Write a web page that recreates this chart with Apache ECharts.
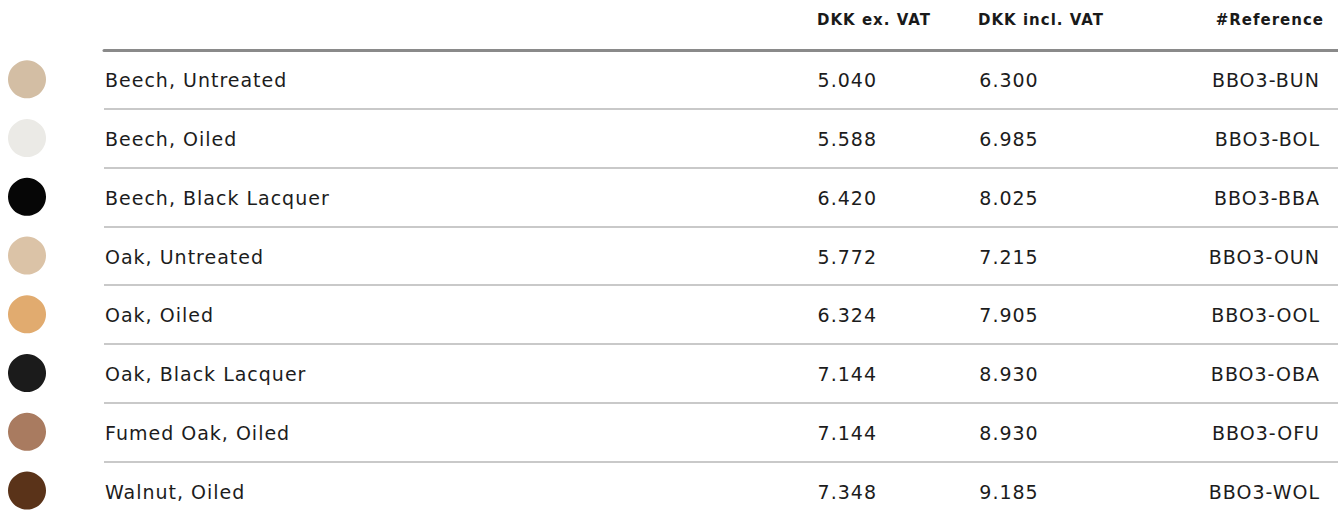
<!DOCTYPE html>
<html>
<head>
<meta charset="utf-8">
<script src="https://cdn.jsdelivr.net/npm/echarts@6/dist/echarts.min.js"></script>
<style>
html,body{margin:0;padding:0;background:#fff;}
#chart{width:1338px;height:517px;}
#chart text{letter-spacing:1px;}
</style>
</head>
<body>
<div id="chart"></div>
<script>
// ---- data ----
const names = ['Beech, Untreated','Beech, Oiled','Beech, Black Lacquer','Oak, Untreated','Oak, Oiled','Oak, Black Lacquer','Fumed Oak, Oiled','Walnut, Oiled'];
const exVat = [5040, 5588, 6420, 5772, 6324, 7144, 7144, 7348];
const inclVat = [6300, 6985, 8025, 7215, 7905, 8930, 8930, 9185];
const refs = ['BBO3-BUN','BBO3-BOL','BBO3-BBA','BBO3-OUN','BBO3-OOL','BBO3-OBA','BBO3-OFU','BBO3-WOL'];
const finishColors = ['#d3bea4','#ebeae6','#060606','#dbc3a7','#e1ab6f','#1b1b1b','#a97b60','#5a3319'];
const headers = ['DKK ex. VAT','DKK incl. VAT','#Reference'];

// ---- layout ----
const GL = 104, W = 1338;
const px = v => v - GL;
const FONT = 'DejaVu Sans';
const fmt = n => { const s = String(n); return s.length > 3 ? s.slice(0, s.length-3) + '.' + s.slice(-3) : s; };

function textSeries(x, texts, align, dx) {
  return {
    type: 'scatter', clip: false, symbolSize: 1, itemStyle: {color: 'rgba(0,0,0,0)', opacity: 1}, z: 3,
    data: names.map((n, i) => ({value: [px(x), n], label: {formatter: texts[i]}})),
    label: {show: true, position: 'inside', align: align, verticalAlign: 'middle', offset: [dx || 0, 1],
      color: '#1c1c1c', fontFamily: FONT, fontSize: 19},
    silent: true, animation: false
  };
}
const headStyle = (t, x, align) => ({type: 'text', x: x, y: 20,
  style: {text: t, textAlign: align, textVerticalAlign: 'middle', fontFamily: FONT, fontWeight: 'bold', fontSize: 15, fill: '#1a1a1a'}});

const chart = echarts.init(document.getElementById('chart'), null, {renderer: 'svg'});
chart.setOption({
  animation: false,
  grid: {left: GL, right: 0, top: 50, height: 470, outerBoundsMode: 'none', containLabel: false},
  xAxis: {type: 'value', min: 0, max: W - GL, position: 'top',
    axisLine: {show: true, onZero: false, lineStyle: {color: '#8a8a8a', width: 3}},
    axisTick: {show: false}, axisLabel: {show: false}, splitLine: {show: false}},
  yAxis: {type: 'category', data: names, inverse: true,
    axisLine: {show: false}, axisTick: {show: false}, axisLabel: {show: false},
    splitLine: {show: true, lineStyle: {color: '#c9c9c9', width: 2}}},
  graphic: [
    headStyle(headers[0], 817, 'left'),
    headStyle(headers[1], 978, 'left'),
    headStyle(headers[2], 1324, 'right')
  ],
  series: [
    {type: 'scatter', clip: false, symbol: 'circle', symbolSize: 38, silent: true,
      data: names.map((n, i) => ({value: [px(27), n], itemStyle: {color: finishColors[i], opacity: 1}}))},
    textSeries(105, names, 'left'),
    textSeries(876, exVat.map(fmt), 'right', 1),
    textSeries(1009, inclVat.map(fmt), 'center'),
    textSeries(1319, refs, 'right', 1)
  ]
});
</script>
</body>
</html>
